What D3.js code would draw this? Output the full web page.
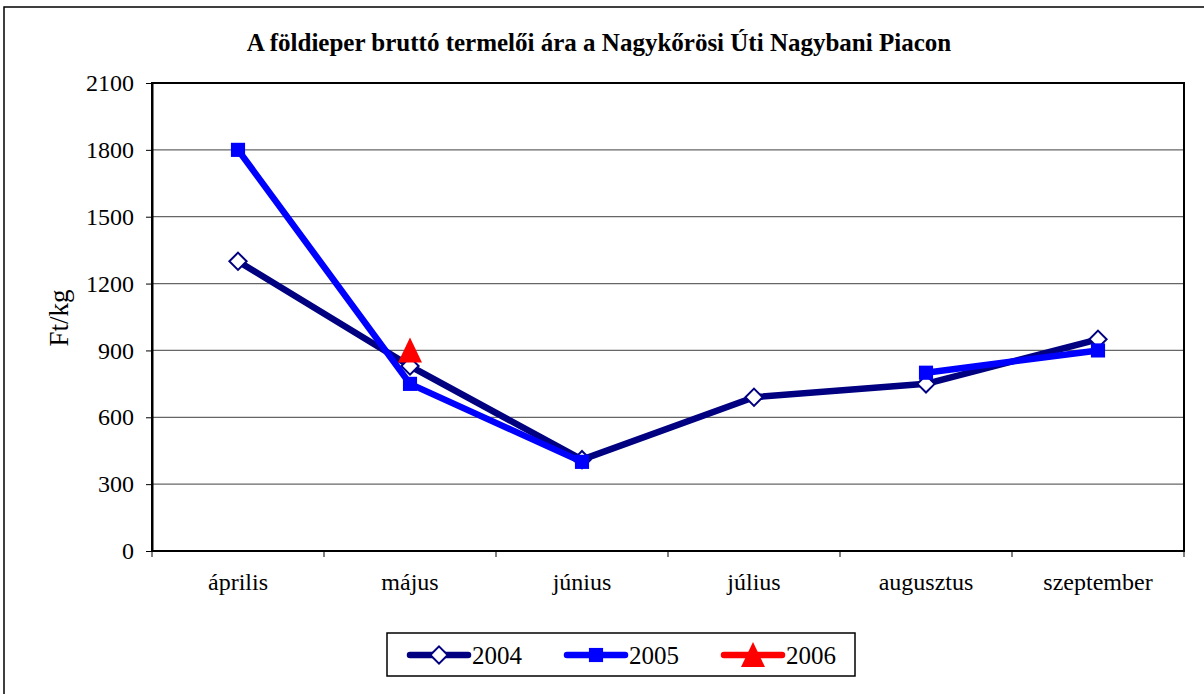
<!DOCTYPE html>
<html>
  <head>
    <meta charset="utf-8">
    <script src="https://cdnjs.cloudflare.com/ajax/libs/d3/7.8.5/d3.min.js"></script>
    <style>
      body { margin: 0; background: #fff; }
      svg { display: block; font-family: 'Liberation Serif', 'Times New Roman', serif; }
      .axis { font-family: 'Liberation Serif', 'Times New Roman', serif; }
      .axis path { stroke: #000; stroke-width: 2; }
      .axis line { stroke: #000; }
      .axis text { font-size: 24px; fill: #000; }
      .grid line { stroke: #666; stroke-width: 1.3; }
    </style>
  </head>
  <body>
    <svg id="chart" width="1204" height="694"></svg>
    <script>
      // Data
      const months = ['április', 'május', 'június', 'július', 'augusztus', 'szeptember'];
      const yTicks = [0, 300, 600, 900, 1200, 1500, 1800, 2100];
      const price2004 = [1300, 830, 410, 690, 750, 950];
      const price2005 = [1800, 750, 400, null, 800, 900];
      const price2006 = [null, 900, null, null, null, null];

      const series = [
        { name: '2004', values: price2004, color: '#000080', width: 6.5, marker: 'diamond' },
        { name: '2005', values: price2005, color: '#0000ff', width: 6.5, marker: 'square' },
        { name: '2006', values: price2006, color: '#ff0000', width: 6.5, marker: 'triangle' }
      ];

      const svg = d3.select('#chart');
      const plot = { left: 152, top: 83, right: 1184, bottom: 551 };

      // outer chart border
      svg.append('rect')
        .attr('x', 4).attr('y', 7)
        .attr('width', 1220).attr('height', 700)
        .attr('fill', '#fff').attr('stroke', '#000').attr('stroke-width', 1.5);

      svg.append('text')
        .attr('x', 599).attr('y', 51)
        .attr('text-anchor', 'middle')
        .style('font-size', '25px').style('font-weight', 'bold')
        .text('A földieper bruttó termelői ára a Nagykőrösi Úti Nagybani Piacon');

      const x = d3.scaleBand().domain(months).range([plot.left, plot.right]);
      const y = d3.scaleLinear().domain([0, 2100]).range([plot.bottom, plot.top]);

      // gridlines
      svg.append('g').attr('class', 'grid')
        .selectAll('line').data(yTicks.slice(1, -1)).enter().append('line')
        .attr('x1', plot.left).attr('x2', plot.right)
        .attr('y1', d => y(d)).attr('y2', d => y(d));

      // plot border
      svg.append('rect')
        .attr('x', plot.left).attr('y', plot.top)
        .attr('width', plot.right - plot.left).attr('height', plot.bottom - plot.top)
        .attr('fill', 'none').attr('stroke', '#000').attr('stroke-width', 2);

      // y axis
      svg.append('g').attr('class', 'axis')
        .attr('transform', 'translate(' + plot.left + ',0)')
        .call(d3.axisLeft(y).tickValues(yTicks).tickFormat(d3.format('d'))
          .tickSize(6).tickPadding(12).tickSizeOuter(0))
        .attr('font-family', null);

      // x axis: ticks at band edges
      const xg = svg.append('g').attr('class', 'axis')
        .attr('transform', 'translate(0,' + plot.bottom + ')');
      xg.append('line').attr('x1', plot.left).attr('x2', plot.right)
        .attr('stroke-width', 2);
      const edges = months.map(m => x(m)).concat([plot.right]);
      xg.selectAll('.edge').data(edges).enter().append('line')
        .attr('class', 'edge')
        .attr('x1', d => d).attr('x2', d => d)
        .attr('y1', 0).attr('y2', 6);
      xg.selectAll('text.lbl').data(months).enter().append('text')
        .attr('class', 'lbl')
        .attr('x', d => x(d) + x.bandwidth() / 2)
        .attr('y', 39)
        .attr('text-anchor', 'middle')
        .text(d => d);

      svg.append('text')
        .attr('transform', 'translate(68,318) rotate(-90)')
        .attr('text-anchor', 'middle')
        .style('font-size', '27px')
        .text('Ft/kg');

      const cx = i => x(months[i]) + x.bandwidth() / 2;

      function drawMarker(g, type, color, px, py) {
        if (type === 'diamond') {
          g.append('path')
            .attr('d', d3.symbol(d3.symbolDiamond2, 190)())
            .attr('transform', 'translate(' + px + ',' + py + ')')
            .attr('fill', '#fff').attr('stroke', color).attr('stroke-width', 2);
        } else if (type === 'square') {
          g.append('path')
            .attr('d', d3.symbol(d3.symbolSquare, 200)())
            .attr('transform', 'translate(' + px + ',' + py + ')')
            .attr('fill', color);
        } else {
          g.append('path')
            .attr('d', 'M0,-13L12,12L-12,12Z')
            .attr('transform', 'translate(' + px + ',' + py + ')')
            .attr('fill', color);
        }
      }

      const line = d3.line()
        .defined(d => d != null)
        .x((d, i) => cx(i))
        .y(d => y(d));

      series.forEach(s => {
        const g = svg.append('g');
        g.append('path')
          .attr('d', line(s.values))
          .attr('fill', 'none')
          .attr('stroke', s.color)
          .attr('stroke-width', s.width)
          .attr('stroke-linejoin', 'round');
        s.values.forEach((v, i) => {
          if (v != null) drawMarker(g, s.marker, s.color, cx(i), y(v));
        });
      });

      // legend
      const lg = svg.append('g');
      lg.append('rect')
        .attr('x', 387).attr('y', 633).attr('width', 468).attr('height', 43)
        .attr('fill', '#fff').attr('stroke', '#000').attr('stroke-width', 1.5);
      const legendX = [410, 567, 724];
      series.forEach((s, i) => {
        const lx = legendX[i];
        lg.append('line')
          .attr('x1', lx).attr('x2', lx + 58)
          .attr('y1', 655).attr('y2', 655)
          .attr('stroke', s.color).attr('stroke-width', s.width)
          .attr('stroke-linecap', 'round');
        drawMarker(lg, s.marker, s.color, lx + 29, 655);
        lg.append('text')
          .attr('x', lx + 62).attr('y', 664)
          .style('font-size', '25px')
          .text(s.name);
      });
    </script>
  </body>
</html>
